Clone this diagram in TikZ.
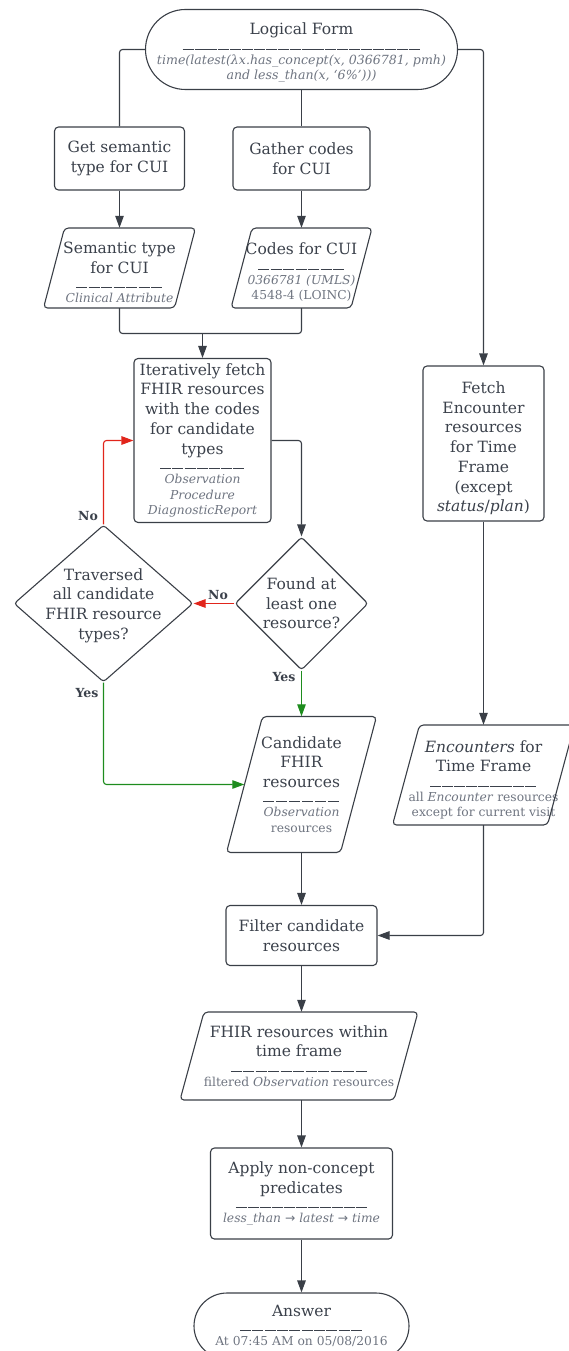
\documentclass[tikz,border=0pt]{standalone}
\usepackage{fontspec}
\setmainfont{DejaVu Serif}
\newfontfamily\dvs{DejaVu Sans}
\usetikzlibrary{arrows.meta,shapes.geometric,calc}
\definecolor{ln}{HTML}{3A3F47}
\definecolor{tx}{HTML}{3B414B}
\definecolor{sub}{HTML}{6E7480}
\definecolor{rd}{HTML}{E1251B}
\definecolor{gr}{HTML}{1E8C1E}
\newcommand\mainf{\fontsize{15.5}{19.7}\selectfont}
\newcommand\subfn{\fontsize{12.3}{15.5}\selectfont\color{sub}}
\newcommand\labf{\fontsize{12.5}{14}\selectfont\bfseries}
\newcommand\si[1]{{\subfn\itshape #1}}
\newcommand\sr[1]{{\subfn #1}}
\newcommand\tp[1]{\rule{0pt}{#1}}
\newcommand\sepl[1]{{\color{tx}\hbox to #1{\xleaders\hbox{\rule[0.25ex]{11pt}{0.8pt}\hspace{0.7pt}}\hfil}}}
% name, half width, half height, half slant
\newcommand\drawpara[4]{\draw[pshape] ($(#1.center)+(-#2+#4,-#3)$) -- ($(#1.center)+(#2+#4,-#3)$) -- ($(#1.center)+(#2-#4,#3)$) -- ($(#1.center)+(-#2-#4,#3)$) -- cycle;}
\tikzset{
 base/.style={draw=ln, line width=1.1pt, text=tx, font=\mainf, align=center, inner sep=0pt},
 box/.style={base, rectangle, rounded corners=4pt},
 term/.style={base, rectangle},
 dia/.style={base, diamond, rounded corners=3pt},
 dtxt/.style={text=tx, font=\mainf, align=center, inner sep=0pt},
 ptxt/.style={text=tx, font=\mainf, align=center, inner sep=0pt, rectangle},
 pshape/.style={draw=ln, line width=1.1pt, rounded corners=4pt},
 conn/.style={draw=ln, line width=1.1pt, rounded corners=3pt},
 arr/.style={conn, -{Triangle[length=12pt,width=8.5pt]}},
 lab/.style={font=\labf, text=tx, inner sep=0pt}
}
\begin{document}
\begin{tikzpicture}[x=1pt,y=-1pt]
\useasboundingbox (0,0) rectangle (569,1351);
% nodes
\node[term, rounded corners=40pt, minimum width=312pt, minimum height=80pt] (lf) at (301.5,49.5)
 {\tp{18.5pt}Logical Form\\[-3pt]\sepl{238pt}\\[-7pt]{\fontsize{12.6}{15}\selectfont\color{sub}\itshape time(latest(λx.has\_concept(x, 0366781, pmh)}\\[-4pt]{\fontsize{12.6}{15}\selectfont\color{sub}\itshape and less\_than(x, ‘6\%’)))}};
\node[box, minimum width=130pt, minimum height=63pt] (get) at (119.5,158.5) {Get semantic\\type for CUI};
\node[box, minimum width=137pt, minimum height=63pt] (gather) at (301.5,158.5) {Gather codes\\for CUI};
\node[ptxt, minimum width=131pt, minimum height=80pt] (sem) at (119.5,268)
 {\tp{20.5pt}Semantic type\\for CUI\\[-3pt]\sepl{88pt}\\[-7pt]\si{Clinical Attribute}};
\drawpara{sem}{65.5}{40}{10.5}
\node[ptxt, minimum width=120pt, minimum height=80pt] (codes) at (301.5,268)
 {\tp{20.5pt}Codes for CUI\\[-3pt]\sepl{88pt}\\[-7pt]\si{0366781 (UMLS)}\\[-4pt]\sr{4548-4 (LOINC)}};
\drawpara{codes}{60}{40}{10.5}
\node[box, minimum width=137pt, minimum height=164pt] (iter) at (202.5,440.5)
 {Iteratively fetch\\FHIR resources\\with the codes\\for candidate\\types\\[-3pt]\sepl{85pt}\\[-7pt]\si{Observation}\\[-4pt]\si{Procedure}\\[-4pt]\si{DiagnosticReport}};
\node[dia, minimum width=133pt, minimum height=133pt,
 label={[dtxt, name=foundtext]center:{Found at\\least one\\resource?}}] (found) at (301.5,603.5) {};
\node[dia, minimum width=179pt, minimum height=157pt,
 label={[dtxt, name=travtext, yshift=-2pt]center:{Traversed\\all candidate\\FHIR resource\\types?}}] (trav) at (103.5,603.5) {};
\node[ptxt, minimum width=114pt, minimum height=136pt] (cand) at (301.5,784.5)
 {Candidate\\FHIR\\resources\\[-3pt]\sepl{79pt}\\[-7pt]\si{Observation}\\[-4pt]\sr{resources}};
\drawpara{cand}{57}{68}{18}
\node[box, minimum width=121pt, minimum height=155pt] (fetch) at (483.5,443.5)
 {\tp{21.5pt}Fetch\\Encounter\\resources\\for Time\\Frame\\(except\\\textit{status}/\textit{plan})};
\node[ptxt, minimum width=155pt, minimum height=100pt] (enc) at (483.5,775)
 {\tp{21.5pt}\textit{Encounters} for\\Time Frame\\[-3pt]\sepl{107pt}\\[-7pt]\sr{all \textit{Encounter} resources}\\[-4pt]\sr{except for current visit}};
\drawpara{enc}{77.5}{50}{13.5}
\node[box, minimum width=151pt, minimum height=60pt] (filter) at (301.5,935.5) {Filter candidate\\resources};
\node[ptxt, minimum width=214pt, minimum height=88pt] (within) at (299,1056)
 {FHIR resources within\\time frame\\[-3pt]\sepl{138pt}\\[-7pt]\sr{filtered \textit{Observation} resources}};
\drawpara{within}{107}{44}{12}
\node[box, minimum width=182pt, minimum height=91pt] (apply) at (301.5,1193.5)
 {Apply non-concept\\predicates\\[-3pt]\sepl{132pt}\\[-7pt]\si{less\_than {\dvs\upshape →} latest {\dvs\upshape →} time}};
\node[term, rounded corners=33pt, minimum width=215pt, minimum height=66pt] (ans) at (301.5,1326)
 {Answer\\[-3pt]\sepl{124pt}\\[-7pt]\sr{At 07:45 AM on 05/08/2016}};
% connectors
\draw[conn] (lf.west) -| (get.north);
\draw[arr] (lf.east) -| (fetch.north);
\draw[conn] (lf.south) -- (lf.south |- gather.north);
\draw[arr] (get.south) -- (get.south |- sem.north);
\draw[arr] (gather.south) -- (gather.south |- codes.north);
\coordinate (join) at (202.5,333.5);
\draw[conn] (sem.south) |- (join) -| (codes.south);
\draw[arr] (join) -- (iter.north);
\draw[arr] (iter.east) -| (found.north);
\draw[arr, draw=rd, color=rd] (found.west) -- (trav.east) node[lab, pos=0.4, above=3pt] {No};
\draw[arr, draw=rd, color=rd] (trav.north) |- (iter.west);
\node[lab] (no2) at (88,516) {No};
\draw[arr, draw=gr, color=gr] (found.south) -- (found.south |- cand.north);
\node[lab] (yes1) at (284,677) {Yes};
\draw[arr, draw=gr, color=gr] (trav.south) |- (cand.west);
\node[lab] (yes2) at (87,693) {Yes};
\draw[arr] (cand.south) -- (cand.south |- filter.north);
\draw[arr] (fetch.south) -- (fetch.south |- enc.north);
\draw[arr] (enc.south) |- (filter.east);
\draw[arr] (filter.south) -- (filter.south |- within.north);
\draw[arr] (apply.north |- within.south) -- (apply.north);
\draw[arr] (apply.south) -- (apply.south |- ans.north);
\end{tikzpicture}
\end{document}
